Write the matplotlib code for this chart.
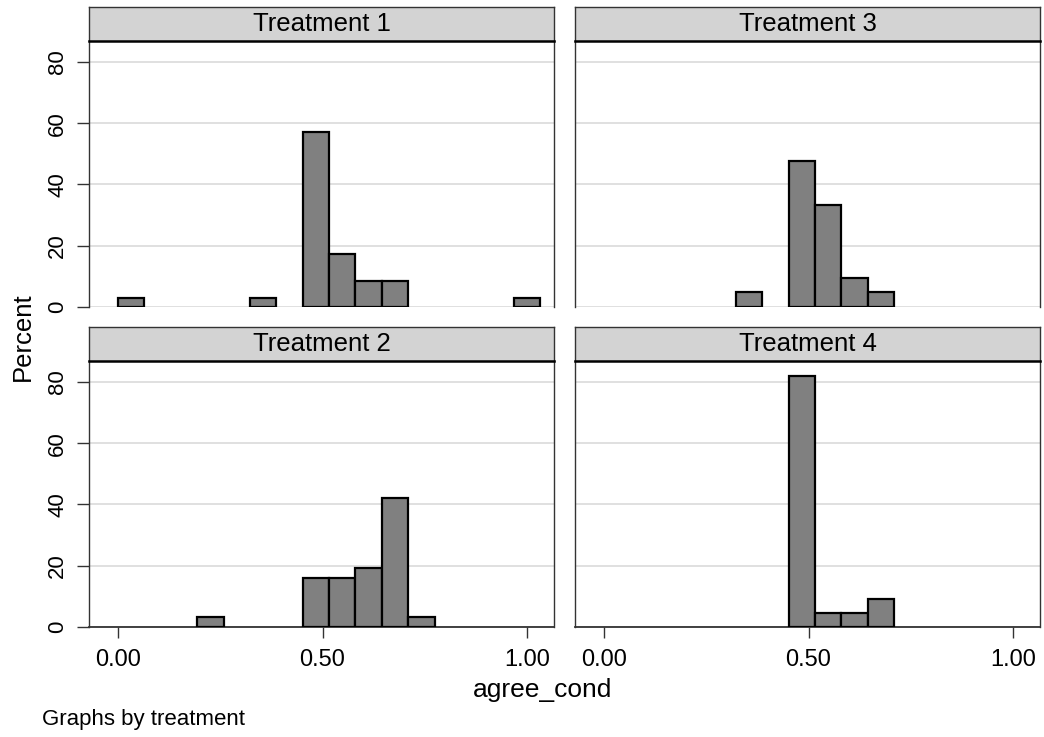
import numpy as np
import matplotlib
matplotlib.use('Agg')
import matplotlib.pyplot as plt

plt.rcParams['font.family'] = ['Liberation Sans', 'DejaVu Sans']

# histogram bins (start, width), percent per bin
bin_start = 0.0
bin_width = 0.0645
n_bins = 16

panel_titles = ['Treatment 1', 'Treatment 3', 'Treatment 2', 'Treatment 4']

# percent in each bin, index 0..15
pct_t1 = [2.86, 0, 0, 0, 0, 2.86, 0, 57.14, 17.14, 8.57, 8.57, 0, 0, 0, 0, 2.86]
pct_t3 = [0, 0, 0, 0, 0, 4.76, 0, 47.62, 33.33, 9.52, 4.76, 0, 0, 0, 0, 0]
pct_t2 = [0, 0, 0, 3.23, 0, 0, 0, 16.13, 16.13, 19.35, 41.94, 3.23, 0, 0, 0, 0]
pct_t4 = [0, 0, 0, 0, 0, 0, 0, 81.82, 4.55, 4.55, 9.09, 0, 0, 0, 0, 0]
panel_pcts = [pct_t1, pct_t3, pct_t2, pct_t4]

x_ticks = [0.0, 0.5, 1.0]
x_ticklabels = ['0.00', '0.50', '1.00']
y_ticks = [0, 20, 40, 60, 80]

W, H = 1044, 737
fig = plt.figure(figsize=(W / 100, H / 100), dpi=100)

col_left = [89 / W, 575 / W]
col_w = 465 / W
row_bottom = [1 - 307 / H, 1 - 627 / H]
plot_h = 266 / H
strip_h = 34 / H

edges = bin_start + bin_width * np.arange(n_bins)

for i, (title, pct) in enumerate(zip(panel_titles, panel_pcts)):
    r, c = divmod(i, 2)
    ax = fig.add_axes([col_left[c], row_bottom[r], col_w, plot_h])
    ax.set_xlim(-0.071, 1.066)
    ax.set_ylim(0, 86.8)
    ax.set_yticks(y_ticks)
    for y in y_ticks:
        ax.axhline(y, color='#dddddd', lw=1.3, zorder=0)
    pct = np.array(pct, dtype=float)
    mask = pct > 0
    ax.bar(edges[mask], pct[mask], width=bin_width, align='edge',
           color='#808080', edgecolor='black', linewidth=1.6, zorder=3)

    ax.spines['top'].set_visible(False)
    for s in ['left', 'right']:
        ax.spines[s].set_color('#333333')
        ax.spines[s].set_linewidth(1.0)

    if c == 0:
        ax.set_yticklabels([str(y) for y in y_ticks], rotation=90, va='center', fontsize=16)
        ax.tick_params(axis='y', length=9, width=1, pad=6, color='#333333')
    else:
        ax.tick_params(axis='y', length=0, labelleft=False)

    if r == 1:
        ax.spines['bottom'].set_color('#333333')
        ax.spines['bottom'].set_linewidth(1.3)
        ax.set_xticks(x_ticks)
        ax.set_xticklabels(x_ticklabels, fontsize=17)
        ax.tick_params(axis='x', length=8, width=1, pad=8, color='#333333')
    else:
        ax.spines['bottom'].set_visible(False)
        ax.set_xticks(x_ticks)
        ax.tick_params(axis='x', length=0, labelbottom=False)

    # strip header
    sax = fig.add_axes([col_left[c], row_bottom[r] + plot_h, col_w, strip_h])
    sax.set_facecolor('#d3d3d3')
    sax.set_xticks([])
    sax.set_yticks([])
    for s in ['left', 'right', 'top']:
        sax.spines[s].set_color('#333333')
        sax.spines[s].set_linewidth(1.0)
    sax.spines['bottom'].set_color('black')
    sax.spines['bottom'].set_linewidth(1.8)
    sax.text(0.5, 0.5, title, ha='center', va='center', fontsize=18.5,
             transform=sax.transAxes)

fig.text(23 / W, 1 - 337 / H, 'Percent', rotation=90, ha='center', va='center', fontsize=18.5)
fig.text(543 / W, 1 - 690 / H, 'agree_cond', ha='center', va='center', fontsize=19)
fig.text(42 / W, 1 - 720 / H, 'Graphs by treatment', ha='left', va='center', fontsize=16)

fig.savefig('out.png', dpi=100, facecolor='white')
